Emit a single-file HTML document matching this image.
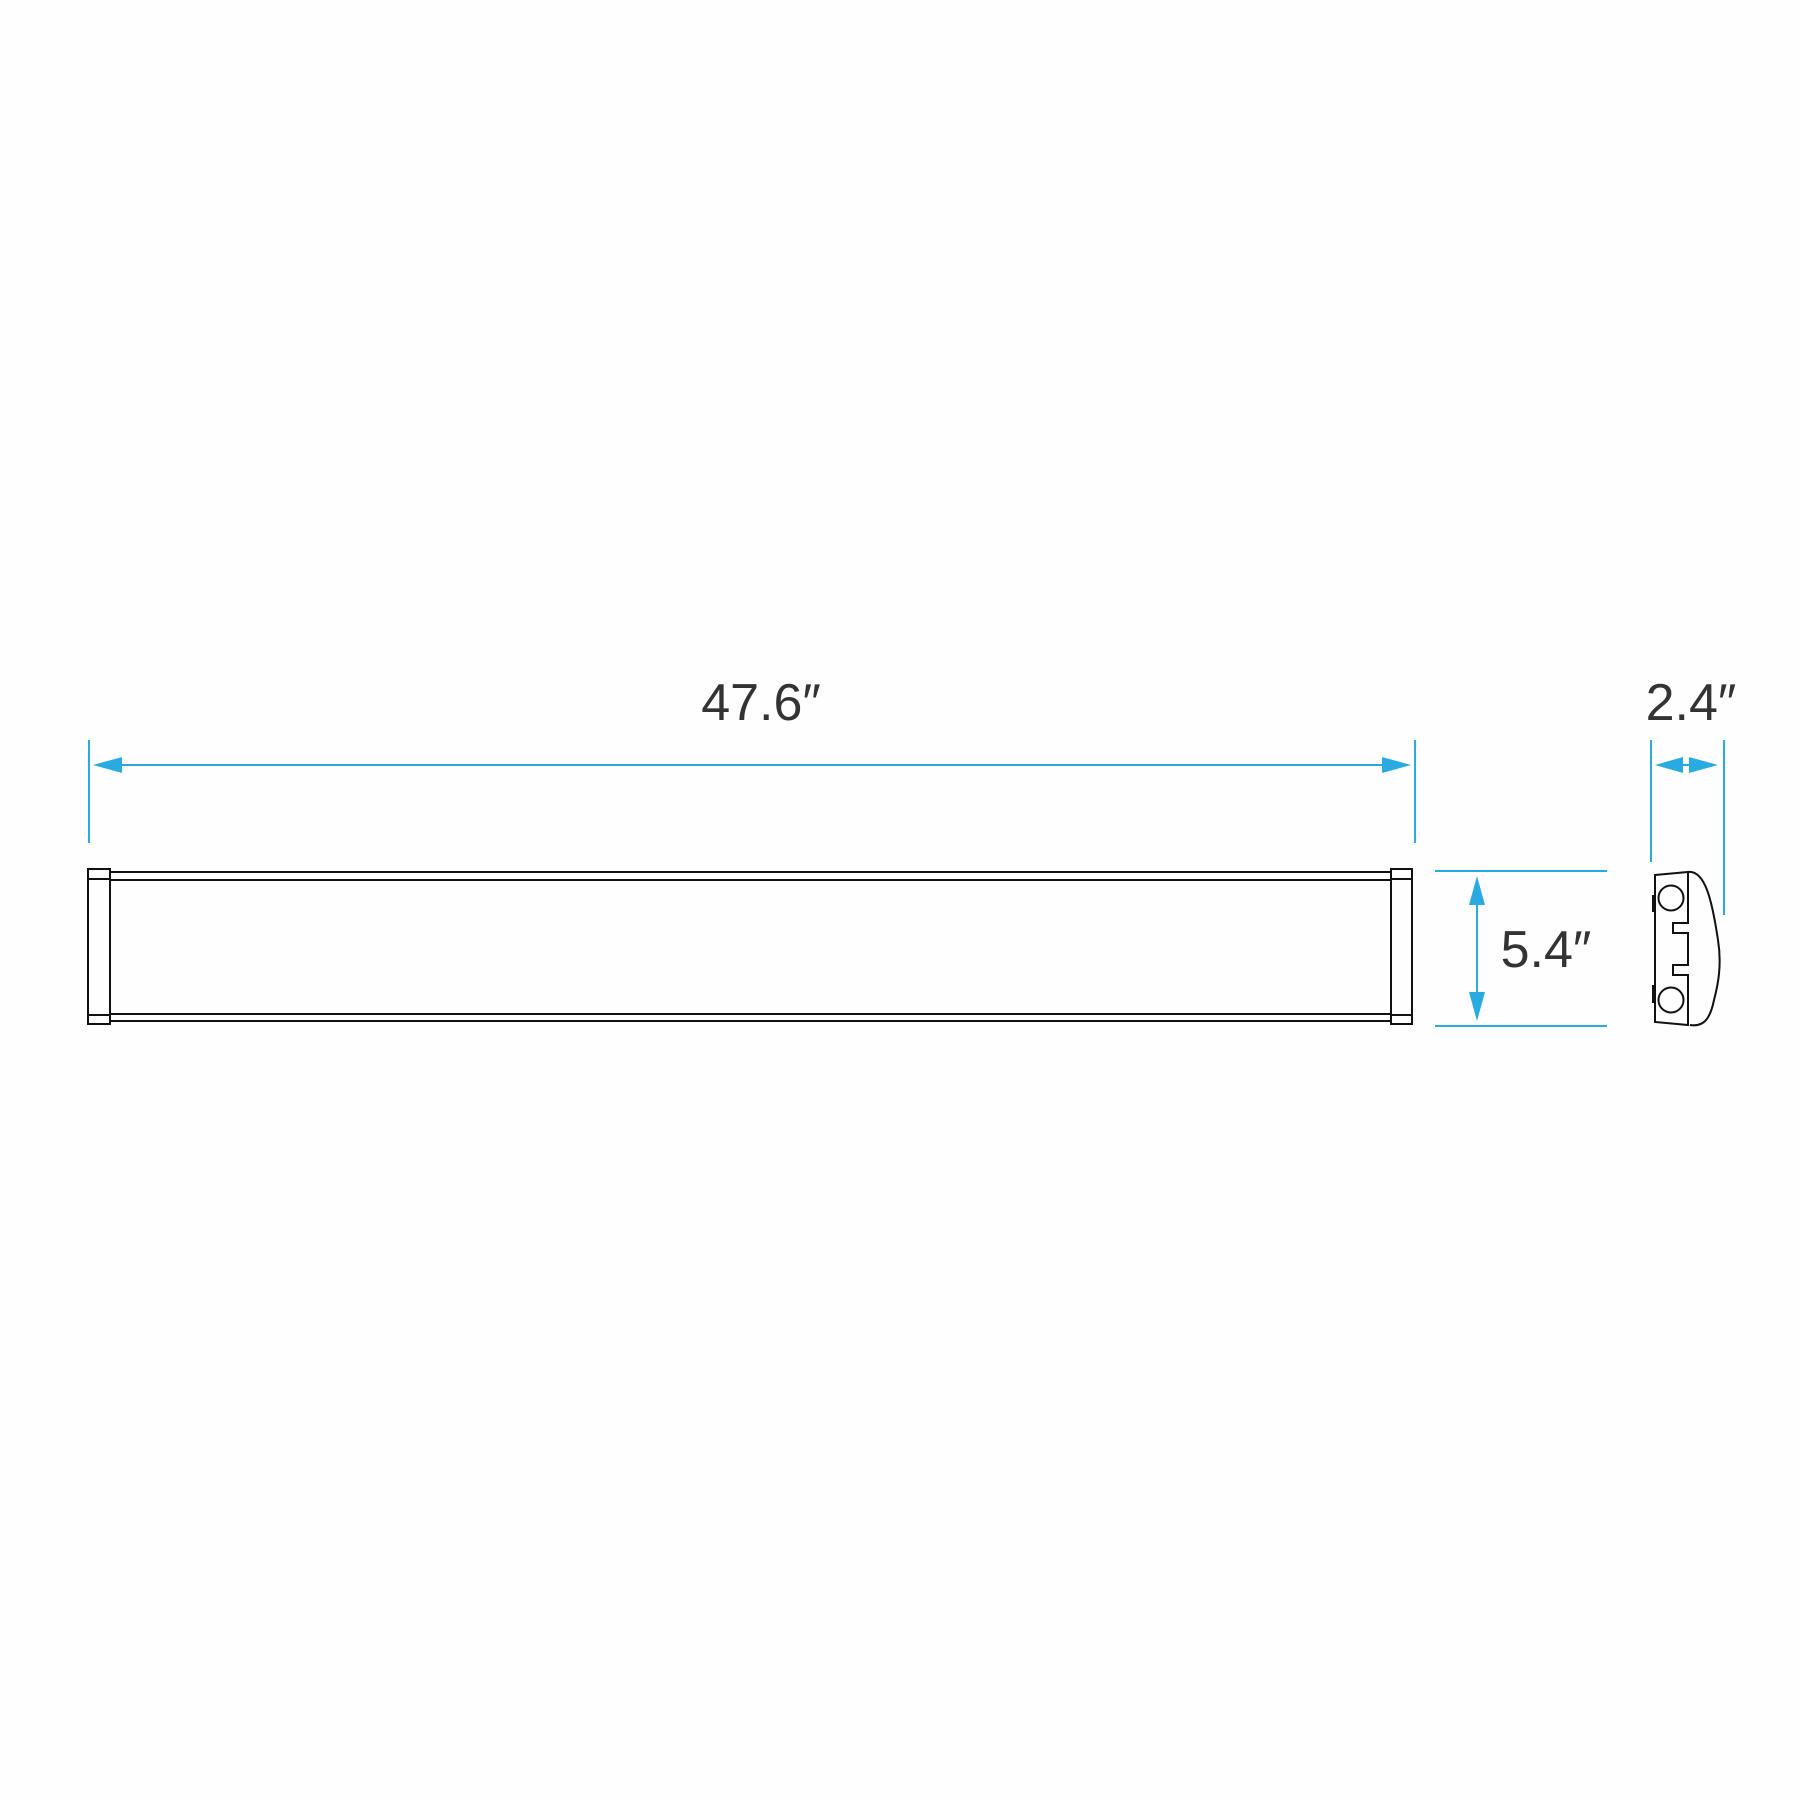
<!DOCTYPE html>
<html><head><meta charset="utf-8"><style>
html,body{margin:0;padding:0;background:#fefefe;}
svg{display:block}
text{font-family:"Liberation Sans",sans-serif;font-size:52px;fill:#333;}
</style></head><body>
<svg width="1800" height="1800" viewBox="0 0 1800 1800" xmlns="http://www.w3.org/2000/svg">
<rect width="1800" height="1800" fill="#fefefe"/>
<g stroke="#29abe2" stroke-width="2" fill="none">
<line x1="89" y1="740" x2="89" y2="843"/>
<line x1="1415" y1="740" x2="1415" y2="843"/>
<line x1="118" y1="765" x2="1386" y2="765"/>
<line x1="1651" y1="740" x2="1651" y2="862"/>
<line x1="1724" y1="740" x2="1724" y2="915"/>
<line x1="1680" y1="765" x2="1692" y2="765"/>
<line x1="1435" y1="871" x2="1607" y2="871"/>
<line x1="1435" y1="1026" x2="1607" y2="1026"/>
<line x1="1477" y1="900" x2="1477" y2="997"/>
</g>
<g fill="#29abe2">
<polygon points="93,765 122,757 122,773"/>
<polygon points="1411,765 1382,757 1382,773"/>
<polygon points="1655,765 1683,757 1683,773"/>
<polygon points="1718,765 1689,757 1689,773"/>
<polygon points="1477,876 1469,905 1485,905"/>
<polygon points="1477,1021 1469,992 1485,992"/>
</g>
<g stroke="#111" stroke-width="2" fill="none">
<rect x="88" y="869" width="22" height="155"/>
<line x1="88" y1="879" x2="110" y2="879"/>
<line x1="88" y1="1015" x2="110" y2="1015"/>
<rect x="1391" y="869" width="21" height="155"/>
<line x1="1391" y1="879" x2="1412" y2="879"/>
<line x1="1391" y1="1015" x2="1412" y2="1015"/>
<line x1="110" y1="872" x2="1391" y2="872"/>
<line x1="110" y1="880" x2="1391" y2="880"/>
<line x1="110" y1="1014" x2="1391" y2="1014"/>
<line x1="110" y1="1021" x2="1391" y2="1021"/>
<path d="M1655,875 L1688,872 L1688,923 L1673,923 L1673,933 L1688,933 L1688,965 L1673,965 L1673,975 L1688,975 L1688,1025 L1655,1022 Z"/>
<path d="M1688,872 C1705,870 1712,900 1718,940 C1722,965 1718,985 1714,1000 C1710,1020 1703,1027 1690,1025"/>
<circle cx="1671" cy="898" r="12.5"/>
<circle cx="1671" cy="1000" r="12.5"/>
</g>
<rect x="1652" y="895" width="3" height="17" fill="#111"/>
<rect x="1652" y="985" width="3" height="18" fill="#111"/>
<text x="761" y="720" text-anchor="middle">47.6″</text>
<text x="1691" y="720" text-anchor="middle">2.4″</text>
<text x="1546" y="967" text-anchor="middle">5.4″</text>
</svg>
</body></html>
